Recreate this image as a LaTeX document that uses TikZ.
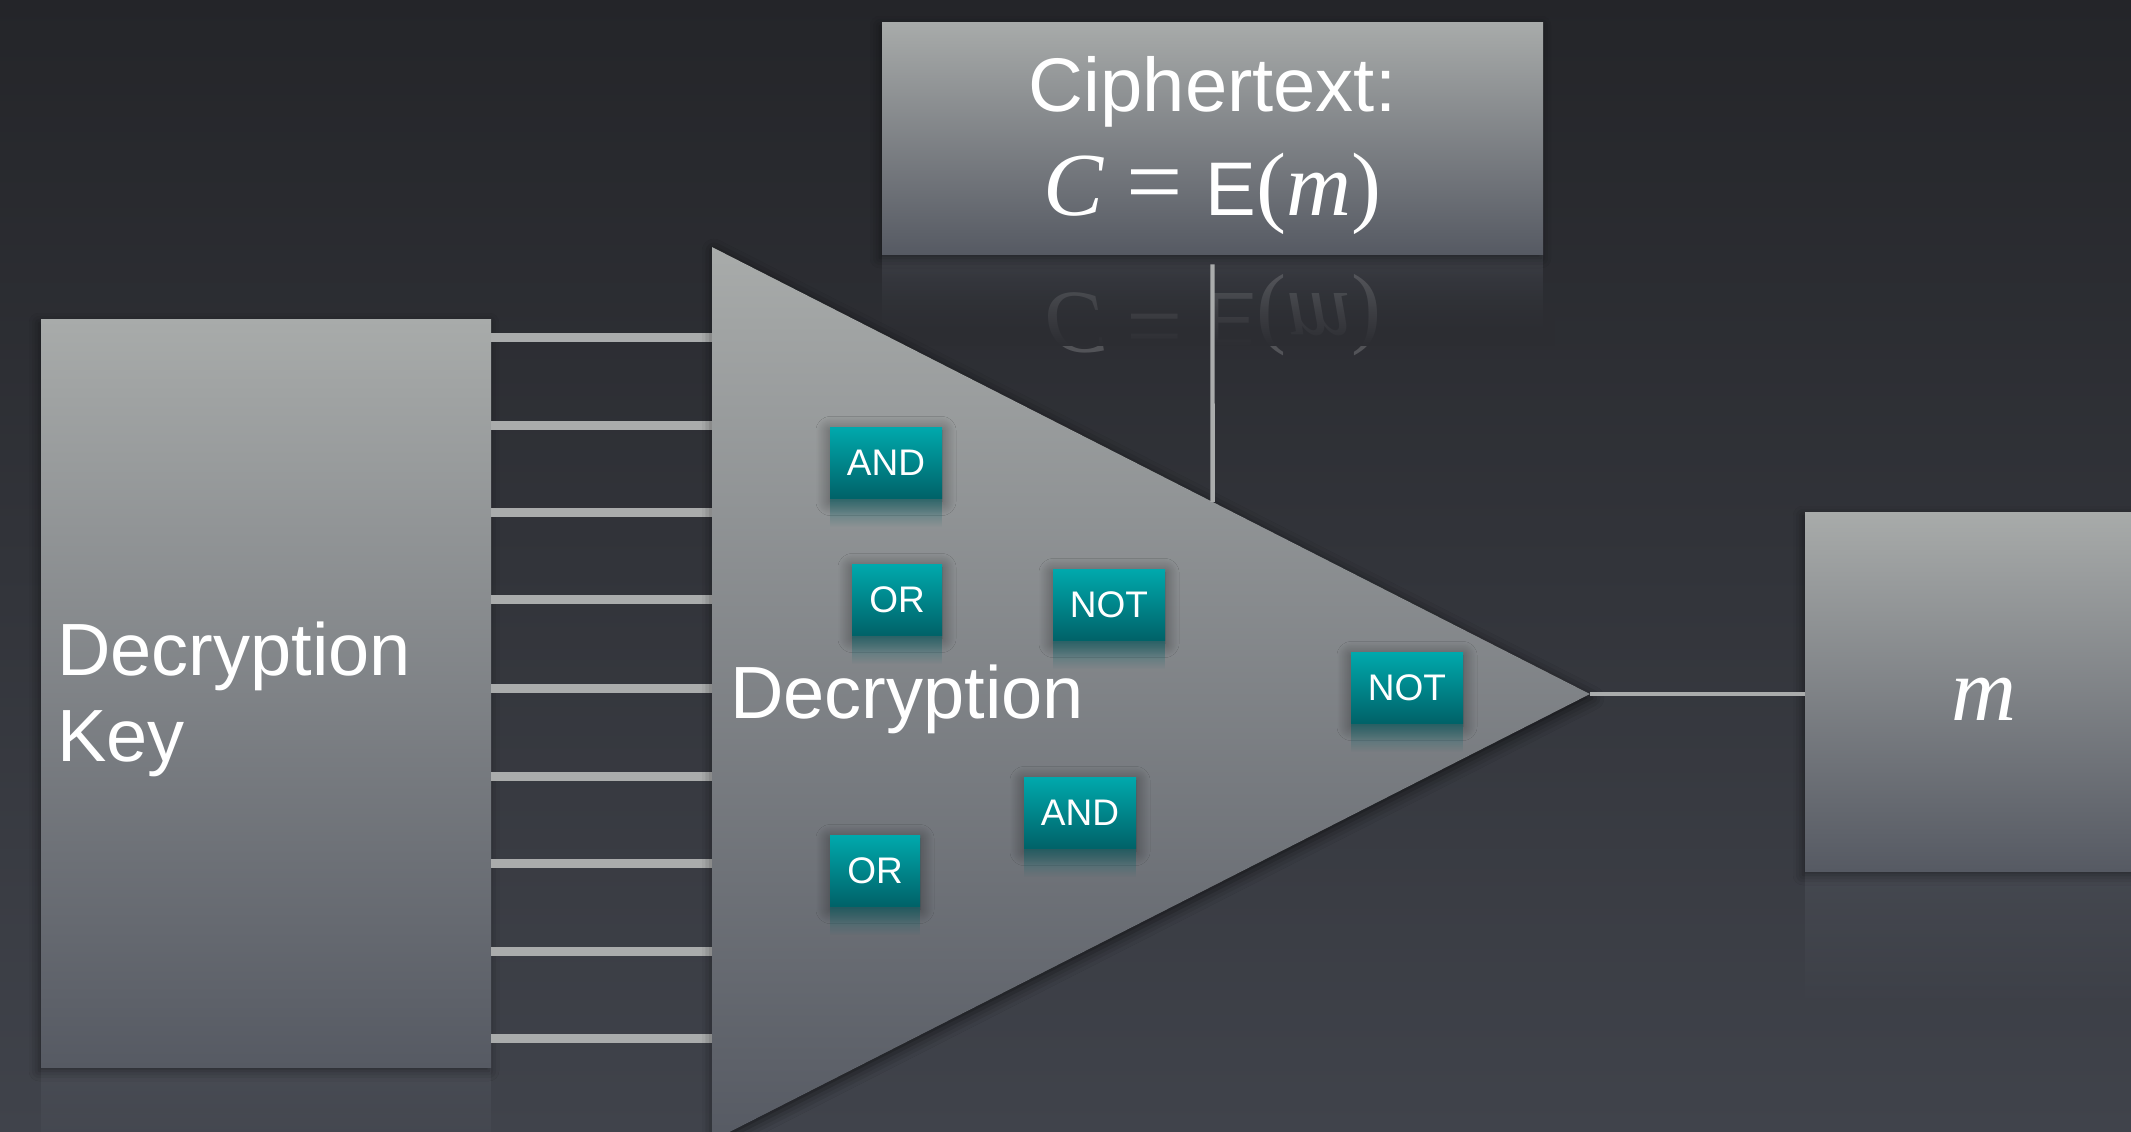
\documentclass[tikz,border=0pt]{standalone}
\usepackage{fontspec}
\usepackage{graphicx}
\setmainfont{Liberation Sans}
\newfontfamily\seriffont{Liberation Serif}
\usetikzlibrary{shadows.blur,fadings,calc}

\definecolor{bgtop}{RGB}{36,37,41}
\definecolor{bgbot}{RGB}{64,67,75}
\colorlet{bgmid}{bgbot!27!bgtop}
\definecolor{boxtop}{RGB}{168,171,170}
\definecolor{boxbot}{RGB}{86,90,99}
\definecolor{gatetop}{RGB}{0,168,172}
\definecolor{gatebot}{RGB}{0,98,104}
\definecolor{wire}{RGB}{170,172,172}

\newcommand{\formula}{{\seriffont\itshape\fontsize{45}{52}\selectfont C}\hspace{0.3em}{\seriffont\fontsize{50}{52}\selectfont=}\hspace{0.3em}E{\seriffont\fontsize{45}{52}\selectfont(\itshape m\/\upshape)}}

\tikzset{
  panel/.style={rectangle, inner sep=0pt, top color=boxtop, bottom color=boxbot,
    blur shadow={shadow xshift=-1pt, shadow yshift=-2pt, shadow blur radius=5pt, shadow opacity=45}},
  label/.style={inner sep=0pt, text=white},
  gate/.style={rectangle, inner sep=0pt, minimum height=35.5pt, top color=gatetop, bottom color=gatebot,
    text=white, font=\fontsize{18.5}{18.5}\selectfont,
    blur shadow={shadow xshift=0pt, shadow yshift=-1.5pt, shadow blur radius=7pt, shadow opacity=45, shadow blur steps=20}},
  gatewide/.style={minimum width=56pt},
  gatenarrow/.style={minimum width=45pt},
  bus/.style={wire, line width=4.5pt},
  feed/.style={wire, line width=2.2pt},
  mirror/.style={boxbot, path fading=south, opacity=0.4},
}

\begin{document}
\begin{tikzpicture}[x=0.5pt, y=-0.5pt]
  \useasboundingbox (0,0) rectangle (2131,1131);
  \clip (0,0) rectangle (2131,1131);
  % backdrop
  \fill[top color=bgtop, bottom color=bgbot] (0,0) rectangle (2131,1131);

  % mirror images under the panels
  \fill[mirror] (41,1068) rectangle (491,1200);
  \fill[mirror] (882,255) rectangle (1543,345);
  \fill[mirror] (1805,872) rectangle (2163,1010);
  \node[label, anchor=base, opacity=0.18, font=\fontsize{38}{52}\selectfont]
    (cipherecho) at (1212.5,293) {\scalebox{1}[-1]{\formula}};
  \fill[bgmid, path fading=north] (870,262) rectangle (1555,346);

  % triangle corners
  \coordinate (tt) at (712,247);
  \coordinate (tb) at (712,1141);
  \coordinate (tip) at (1590,694);

  % panels
  \node[panel, minimum width=225pt, minimum height=374pt] (key) at (266,693) {};
  \node[label, anchor=base west, font=\fontsize{37}{43}\selectfont] (keyl1) at (57,675) {Decryption};
  \node[label, anchor=base west, font=\fontsize{37}{43}\selectfont] (keyl2) at (57,761) {Key};

  \node[panel, minimum width=330.5pt, minimum height=116pt] (cipher) at (1212.5,138) {};
  \node[label, anchor=base, font=\fontsize{38}{52}\selectfont] (cipherl1) at (1212.5,111) {Ciphertext:};
  \node[label, anchor=base, font=\fontsize{38}{52}\selectfont] (cipherl2) at (1212.5,215) {\formula};

  \node[panel, minimum width=179pt, minimum height=179.5pt] (mbox) at (1984,691.5) {};
  \node[label, anchor=base, font=\seriffont\itshape\fontsize{45}{45}\selectfont] (mlabel) at (1984,720) {m};

  % key bus into the circuit
  \foreach \yy in {337,425,512,599,688,776,863,951,1038}
    \draw[bus] (key.east |- 0,\yy) -- (tt |- 0,\yy);

  % the circuit
  \fill[top color=boxtop, bottom color=boxbot,
        blur shadow={shadow xshift=1pt, shadow yshift=-2pt, shadow blur radius=6pt, shadow opacity=60}]
    (tt) -- (tip) -- (tb) -- cycle;
  \node[label, anchor=base west, font=\fontsize{37}{37}\selectfont]
    (dectext) at (730,718) {Decryption};

  % ciphertext feed and plaintext output
  \coordinate (feedtop) at ($(cipher.south)+(0,10)$);
  \draw[feed] (feedtop) -- (intersection of cipher.south--cipher.center and tt--tip);
  \draw[feed] (tip) -- (tip -| mbox.west);

  % gates
  \node[gate, gatewide]   (and1) at (886,463)  {AND};
  \node[gate, gatenarrow] (or1)  at (897,600)  {OR};
  \node[gate, gatewide]   (not1) at (1109,605) {NOT};
  \node[gate, gatewide]   (not2) at (1407,688) {NOT};
  \node[gate, gatewide]   (and2) at (1080,813) {AND};
  \node[gate, gatenarrow] (or2)  at (875,871)  {OR};
  \foreach \g in {and1,or1,not1,not2,and2,or2}
    \fill[gatebot, path fading=south, opacity=0.55] (\g.south west) rectangle ($(\g.south east)+(0,28)$);
\end{tikzpicture}
\end{document}
